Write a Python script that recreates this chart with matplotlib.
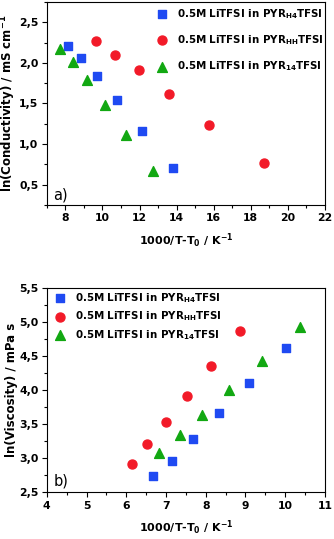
import matplotlib
matplotlib.use("Agg")
import matplotlib.pyplot as plt
from matplotlib.ticker import FuncFormatter, MultipleLocator

plt.rcParams['font.family'] = ['DejaVu Sans']
plt.rcParams['font.weight'] = 'bold'
plt.rcParams['axes.labelweight'] = 'bold'
plt.rcParams['mathtext.fontset'] = 'dejavusans'
plt.rcParams['mathtext.default'] = 'bf'

# panel a) conductivity
cond_h4_x = [8.14, 8.86, 9.73, 10.79, 12.12, 13.79]
cond_h4_y = [2.21, 2.06, 1.84, 1.54, 1.16, 0.70]
cond_hh_x = [9.64, 10.68, 11.97, 13.60, 15.75, 18.71]
cond_hh_y = [2.27, 2.10, 1.91, 1.62, 1.23, 0.77]
cond_14_x = [7.73, 8.41, 9.17, 10.12, 11.27, 12.73]
cond_14_y = [2.17, 2.01, 1.79, 1.48, 1.11, 0.67]

# panel b) viscosity
visc_h4_x = [6.67, 7.14, 7.69, 8.33, 9.10, 10.01]
visc_h4_y = [2.74, 2.96, 3.28, 3.66, 4.10, 4.61]
visc_hh_x = [6.14, 6.52, 6.99, 7.53, 8.13, 8.85]
visc_hh_y = [2.92, 3.21, 3.53, 3.91, 4.35, 4.87]
visc_14_x = [6.83, 7.34, 7.91, 8.59, 9.41, 10.38]
visc_14_y = [3.07, 3.34, 3.64, 4.00, 4.43, 4.92]

labels = [r'0.5M LiTFSI in PYR$_{H4}$TFSI',
          r'0.5M LiTFSI in PYR$_{HH}$TFSI',
          r'0.5M LiTFSI in PYR$_{14}$TFSI']
blue, red, green = '#1f4af2', '#f21a28', '#12a812'

fig = plt.figure(figsize=(3.34, 5.39), dpi=100)
ax1 = fig.add_axes([0.14, 0.620, 0.833, 0.376])
ax2 = fig.add_axes([0.14, 0.0866, 0.833, 0.3794])

comma = FuncFormatter(lambda v, p: ('%.1f' % v).replace('.', ','))

def style(ax):
    ax.tick_params(which='both', direction='out', top=False, right=False,
                   labelsize=7.8, width=0.8, pad=2.5)
    ax.tick_params(which='major', length=3.5)
    ax.tick_params(which='minor', length=2)
    for s in ax.spines.values():
        s.set_linewidth(0.8)
    ax.yaxis.set_major_formatter(comma)
    ax.xaxis.set_major_formatter(FuncFormatter(lambda v, p: '%d' % v))
    ax.yaxis.set_label_coords(-0.102, 0.5)

ax1.scatter(cond_h4_x, cond_h4_y, marker='s', s=28, color=blue, label=labels[0], zorder=3)
ax1.scatter(cond_hh_x, cond_hh_y, marker='o', s=42, color=red, label=labels[1], zorder=3)
ax1.scatter(cond_14_x, cond_14_y, marker='^', s=50, color=green, label=labels[2], zorder=3)
ax1.set_xlim(7, 22)
ax1.set_ylim(0.25, 2.75)
ax1.xaxis.set_major_locator(MultipleLocator(2))
ax1.xaxis.set_minor_locator(MultipleLocator(1))
ax1.yaxis.set_major_locator(MultipleLocator(0.5))
ax1.yaxis.set_minor_locator(MultipleLocator(0.25))
style(ax1)
ax1.set_xlabel(r'1000/T-T$_0$ / K$^{-1}$', fontsize=8, labelpad=6)
ax1.set_ylabel(r'ln(Conductivity) / mS cm$^{-1}$', fontsize=8.5)
ax1.text(0.023, 0.025, 'a)', transform=ax1.transAxes, fontsize=10.5, fontweight='normal')
ax1.legend(loc='upper left', bbox_to_anchor=(157 / 334, 1 - 7 / 539),
           bbox_transform=fig.transFigure, frameon=False, labelspacing=1.2,
           handletextpad=0.95, borderaxespad=0, borderpad=0, handlelength=1.0,
           prop={'weight': 'bold', 'size': 7.4})

ax2.scatter(visc_h4_x, visc_h4_y, marker='s', s=28, color=blue, label=labels[0], zorder=3)
ax2.scatter(visc_hh_x, visc_hh_y, marker='o', s=42, color=red, label=labels[1], zorder=3)
ax2.scatter(visc_14_x, visc_14_y, marker='^', s=50, color=green, label=labels[2], zorder=3)
ax2.set_xlim(4, 11)
ax2.set_ylim(2.5, 5.5)
ax2.xaxis.set_major_locator(MultipleLocator(1))
ax2.xaxis.set_minor_locator(MultipleLocator(0.5))
ax2.yaxis.set_major_locator(MultipleLocator(0.5))
ax2.yaxis.set_minor_locator(MultipleLocator(0.25))
style(ax2)
ax2.set_xlabel(r'1000/T-T$_0$ / K$^{-1}$', fontsize=8, labelpad=6)
ax2.set_ylabel(r'ln(Viscosity) / mPa s', fontsize=8.5)
ax2.text(0.023, 0.035, 'b)', transform=ax2.transAxes, fontsize=10.5, fontweight='normal')
ax2.legend(loc='upper left', bbox_to_anchor=(55 / 334, 1 - 291 / 539),
           bbox_transform=fig.transFigure, frameon=False, labelspacing=0.45,
           handletextpad=0.95, borderaxespad=0, borderpad=0, handlelength=1.0,
           prop={'weight': 'bold', 'size': 7.4})

fig.savefig('out.png', dpi=100)
